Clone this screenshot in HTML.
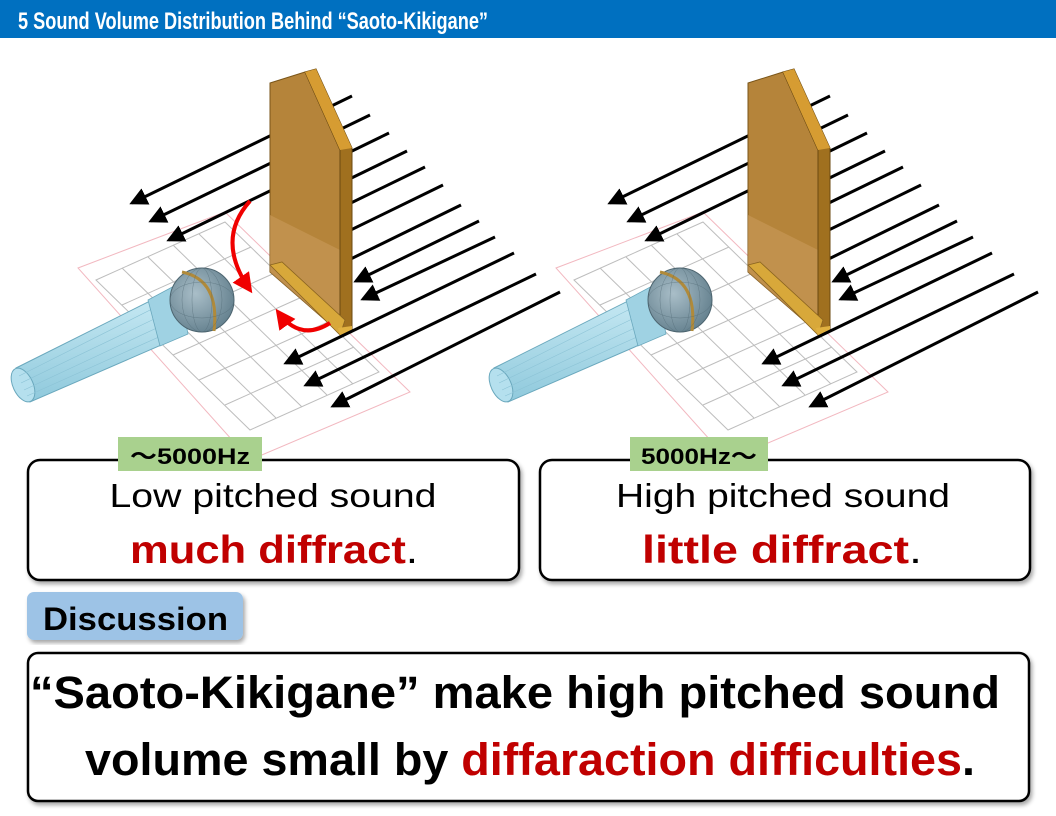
<!DOCTYPE html>
<html><head><meta charset="utf-8">
<style>
html,body{margin:0;padding:0;background:#fff;}
svg{display:block;font-family:"Liberation Sans","Noto Sans CJK JP",sans-serif;}
</style></head>
<body>
<svg width="1056" height="816" viewBox="0 0 1056 816" xmlns="http://www.w3.org/2000/svg">
<defs>
  <marker id="ah" markerWidth="6" markerHeight="6" refX="5" refY="3" orient="auto" markerUnits="strokeWidth">
    <path d="M0,0 L6,3 L0,6 z" fill="#000"/>
  </marker>
  <marker id="rh" markerWidth="5" markerHeight="5" refX="4" refY="2.5" orient="auto" markerUnits="strokeWidth">
    <path d="M0,0 L5,2.5 L0,5 z" fill="#f00000"/>
  </marker>
  <linearGradient id="micg" x1="0" y1="0" x2="0" y2="1">
    <stop offset="0" stop-color="#c9eaf4"/><stop offset="1" stop-color="#8fc9dc"/>
  </linearGradient>
  <radialGradient id="headg" cx="0.4" cy="0.4" r="0.7">
    <stop offset="0" stop-color="#a9bec8"/><stop offset="1" stop-color="#5f7c8a"/>
  </radialGradient>
  <filter id="sh" x="-5%" y="-5%" width="110%" height="115%">
    <feDropShadow dx="2" dy="3" stdDeviation="2" flood-color="#000" flood-opacity="0.35"/>
  </filter>
  <g id="scene">
    <g stroke="#bdbdbd" stroke-width="1" fill="none">
      <polygon points="78,268 225,212 410,392 250,460" stroke="#f2b8c0"/>
      <polygon points="96,280 225,222 379,372 250,430"/>
      <line x1="122" y1="268" x2="276" y2="418"/>
      <line x1="148" y1="257" x2="302" y2="407"/>
      <line x1="173" y1="245" x2="327" y2="395"/>
      <line x1="199" y1="234" x2="353" y2="384"/>
      <line x1="122" y1="305" x2="251" y2="247"/>
      <line x1="148" y1="330" x2="277" y2="272"/>
      <line x1="173" y1="355" x2="302" y2="297"/>
      <line x1="199" y1="380" x2="328" y2="322"/>
      <line x1="225" y1="405" x2="354" y2="347"/>
    </g>
    <g stroke="#000" stroke-width="3" marker-end="url(#ah)">
      <line x1="352" y1="96" x2="132" y2="203"/>
      <line x1="370" y1="115" x2="151" y2="221"/>
      <line x1="389" y1="133" x2="169" y2="240"/>
      <line x1="407" y1="151" x2="300" y2="203" marker-end="none"/>
      <line x1="425" y1="167" x2="320" y2="218" marker-end="none"/>
      <line x1="443" y1="185" x2="320" y2="245" marker-end="none"/>
      <line x1="461" y1="205" x2="320" y2="274" marker-end="none"/>
    </g>
    <g>
      <polygon points="16,368 168,292 182,336 30,402" fill="url(#micg)" stroke="#6aa8bd" stroke-width="1"/>
      <ellipse cx="23" cy="385" rx="10" ry="18" transform="rotate(-25 23 385)" fill="#b5e0ee" stroke="#6aa8bd"/>
      <g stroke="#8cc3d6" stroke-width="0.6">
        <line x1="19" y1="376" x2="170" y2="300"/><line x1="21" y1="383" x2="173" y2="310"/>
        <line x1="24" y1="390" x2="176" y2="319"/><line x1="27" y1="396" x2="179" y2="328"/>
      </g>
      <polygon points="148,300 178,284 188,334 160,346" fill="#9fd2e3" stroke="#6aa8bd" stroke-width="0.8"/>
      <circle cx="202" cy="300" r="32" fill="url(#headg)" stroke="#4d6570" stroke-width="1"/>
      <path d="M182,272 Q220,280 214,331" stroke="#b08a3a" stroke-width="3" fill="none"/>
      <g stroke="#4d6570" stroke-width="0.5" fill="none" opacity="0.6">
        <ellipse cx="202" cy="300" rx="20" ry="32"/><ellipse cx="202" cy="300" rx="32" ry="18"/>
        <ellipse cx="202" cy="300" rx="10" ry="32"/>
      </g>
    </g>
    <g>
      <polygon points="270,83 305,72 340,150 340,333 270,272" fill="#b5843a" stroke="#7a5518" stroke-width="1"/>
      <polygon points="270,215 340,250 340,333 270,272" fill="#c99a5a" opacity="0.6"/>
      <polygon points="305,72 316,69 352,148 352,330 340,335 340,150" fill="#a0701f" stroke="#6b4a12" stroke-width="1"/>
      <polygon points="305,72 316,69 352,148 340,150" fill="#d69c32"/>
      <polygon points="270,265 282,262 345,320 340,335" fill="#d8a83a" stroke="#8a6420" stroke-width="0.8"/>
      <polygon points="338,328 352,326 352,333 340,336" fill="#e0b040"/>
    </g>
    <g stroke="#000" stroke-width="3" marker-end="url(#ah)">
      <line x1="479" y1="221" x2="356" y2="281"/>
      <line x1="495" y1="237" x2="363" y2="299"/>
      <line x1="514" y1="253" x2="286" y2="363"/>
      <line x1="536" y1="274" x2="306" y2="385"/>
      <line x1="560" y1="292" x2="333" y2="406"/>
    </g>
  </g>
</defs>

<rect x="0" y="0" width="1056" height="38" fill="#0070c0"/>
<text x="18" y="29" fill="#fff" font-weight="bold" font-size="24" textLength="470" lengthAdjust="spacingAndGlyphs">5 Sound Volume Distribution Behind “Saoto-Kikigane”</text>

<use href="#scene"/>
<g stroke="#f00000" stroke-width="4" fill="none" marker-end="url(#rh)">
  <path d="M250,201 Q215,240 250,290"/>
  <path d="M330,323 Q300,342 278,312"/>
</g>
<use href="#scene" x="478" y="0"/>

<rect x="28" y="460" width="491" height="120" rx="12" fill="#fff" stroke="#000" stroke-width="2.5" filter="url(#sh)"/>
<rect x="118" y="437" width="144" height="34" fill="#a9d18e"/>
<text x="190" y="464" text-anchor="middle" font-weight="bold" font-size="22" textLength="120" lengthAdjust="spacingAndGlyphs">～5000Hz</text>
<text x="273" y="507" text-anchor="middle" font-size="33" textLength="327" lengthAdjust="spacingAndGlyphs">Low pitched sound</text>
<text x="274" y="563" text-anchor="middle" font-size="39" font-weight="bold" fill="#c00000" textLength="288" lengthAdjust="spacingAndGlyphs">much diffract<tspan fill="#000" font-weight="normal">.</tspan></text>

<rect x="540" y="460" width="490" height="120" rx="12" fill="#fff" stroke="#000" stroke-width="2.5" filter="url(#sh)"/>
<rect x="630" y="437" width="138" height="34" fill="#a9d18e"/>
<text x="699" y="464" text-anchor="middle" font-weight="bold" font-size="22" textLength="116" lengthAdjust="spacingAndGlyphs">5000Hz～</text>
<text x="783" y="507" text-anchor="middle" font-size="33" textLength="334" lengthAdjust="spacingAndGlyphs">High pitched sound</text>
<text x="782" y="563" text-anchor="middle" font-size="39" font-weight="bold" fill="#c00000" textLength="280" lengthAdjust="spacingAndGlyphs">little diffract<tspan fill="#000" font-weight="normal">.</tspan></text>

<rect x="27" y="592" width="216" height="48" rx="7" fill="#9dc3e6" filter="url(#sh)"/>
<text x="43" y="630" font-weight="bold" font-size="32" textLength="185" lengthAdjust="spacingAndGlyphs">Discussion</text>

<rect x="28" y="653" width="1001" height="148" rx="10" fill="#fff" stroke="#000" stroke-width="2.5" filter="url(#sh)"/>
<text x="30" y="708" font-weight="bold" font-size="45" textLength="970" lengthAdjust="spacingAndGlyphs">“Saoto-Kikigane” make high pitched sound</text>
<text x="85" y="775" font-weight="bold" font-size="45" textLength="890" lengthAdjust="spacingAndGlyphs">volume small by <tspan fill="#c00000">diffaraction difficulties</tspan>.</text>
</svg>
</body></html>
